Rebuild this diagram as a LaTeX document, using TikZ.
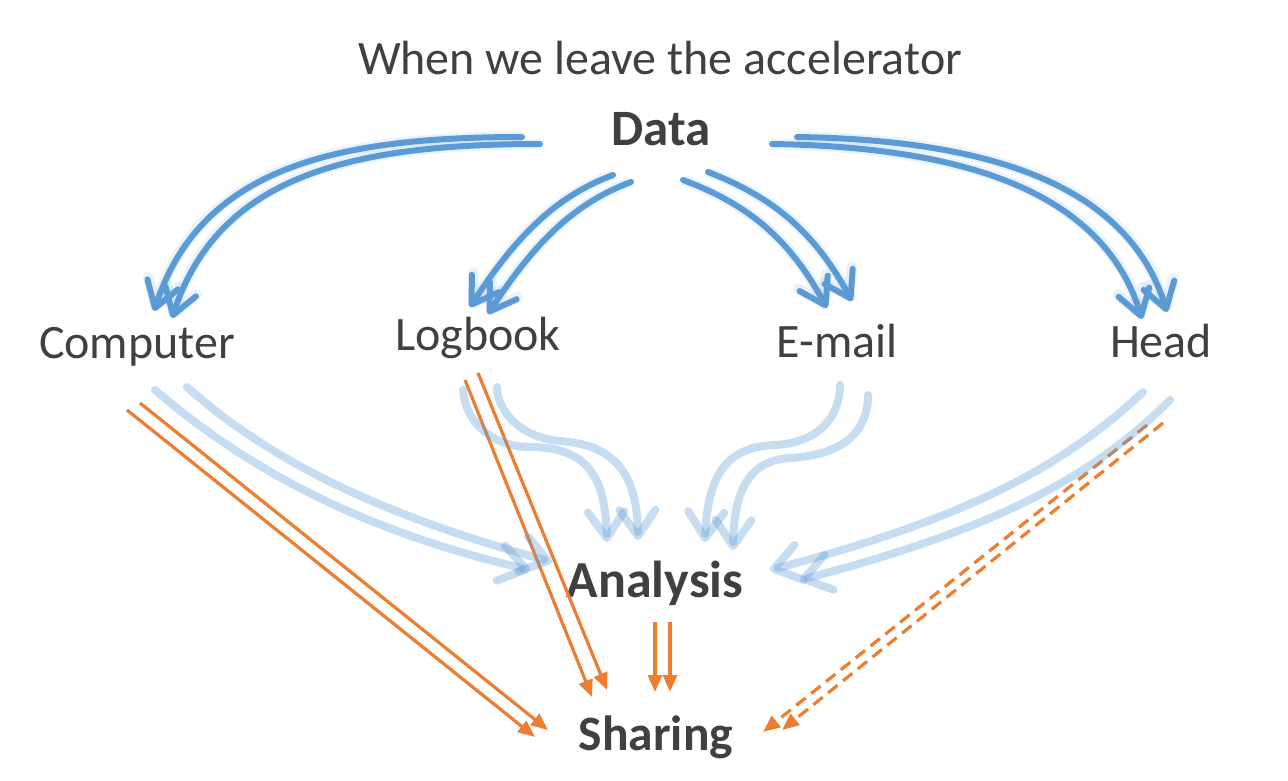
\documentclass[tikz,border=0pt]{standalone}
\usepackage{fontspec}
\setmainfont{Carlito}
\usetikzlibrary{arrows.meta,calc}
\definecolor{txt}{HTML}{404040}
\definecolor{myblue}{HTML}{5B9BD5}
\definecolor{myorange}{HTML}{ED7D31}
\begin{document}
\begin{tikzpicture}[x=1pt,y=-1pt,
  lbl/.style={anchor=base, text=txt, inner sep=0pt, font=\fontsize{48}{56}\selectfont},
  blbl/.style={anchor=base, text=txt, inner sep=0pt, font=\fontsize{51}{60}\selectfont\bfseries},
  darr/.style={draw=myblue, line width=6pt, line cap=round, -{Straight Barb[round,length=25pt,width=32pt]},
    preaction={draw=myblue, draw opacity=0.12, line width=11pt}},
  larr/.style={draw=myblue, draw opacity=0.35, line width=8pt, line cap=round, -{Straight Barb[round,length=26pt,width=36pt]}},
  oarr/.style={draw=myorange, line width=3.2pt, -{Triangle[length=17pt,width=14pt]}},
  odash/.style={oarr, dash pattern=on 12pt off 7pt}]
\useasboundingbox (0,0) rectangle (1288,781);
% nodes
\node[lbl] (title) at (660,75) {When we leave the accelerator};
\node[blbl] (data) at (661,146) {Data};
\node[lbl] (comp) at (137,358) {Computer};
\node[lbl] (log) at (478,350) {Logbook};
\node[lbl] (email) at (837,357) {E-mail};
\node[lbl] (head) at (1161,357) {Head};
\node[blbl, font=\fontsize{52}{60}\selectfont\bfseries] (ana) at (655,597) {Analysis};
\node[blbl, font=\fontsize{49.5}{60}\selectfont\bfseries] (share) at (656,750) {Sharing};
% orange arrows to Sharing
\draw[oarr] ($(comp.base)+(-10,52)$) -- ($(share.base)+(-121,-13)$);
\draw[oarr] ($(comp.base)+(3,45)$) -- ($(share.base)+(-108,-20)$);
\draw[oarr] ($(log.base)+(-13,30)$) -- ($(share.base)+(-64,-53)$);
\draw[oarr] ($(log.base)+(0,23)$) -- ($(share.base)+(-49,-60)$);
\draw[oarr] ($(ana.base)+(0,25)$) -- ($(share.base)+(-1,-58)$);
\draw[oarr] ($(ana.base)+(15,25)$) -- ($(share.base)+(14,-58)$);
\draw[odash] ($(head.base)+(-14,68)$) -- ($(share.base)+(107,-18)$);
\draw[odash] ($(head.base)+(2,66)$) -- ($(share.base)+(126,-20)$);
% dark blue arrows from Data
\draw[darr] ($(data.base)+(-139,-9)$) .. controls (330,137) and (200,170) .. ($(comp.base)+(17,-47)$);
\draw[darr] ($(data.base)+(-121,-2)$) .. controls (348,144) and (218,177) .. ($(comp.base)+(35,-40)$);
\draw[darr] ($(data.base)+(-48,29)$) .. controls (560,195) and (520,230) .. ($(log.base)+(-8,-43)$);
\draw[darr] ($(data.base)+(-30,36)$) .. controls (578,202) and (538,237) .. ($(log.base)+(10,-36)$);
\draw[darr] ($(data.base)+(22,34)$) .. controls (750,205) and (790,240) .. ($(email.base)+(-10,-49)$);
\draw[darr] ($(data.base)+(47,26)$) .. controls (775,198) and (815,233) .. ($(email.base)+(15,-56)$);
\draw[darr] ($(data.base)+(136,-9)$) .. controls (1000,140) and (1130,190) .. ($(head.base)+(6,-45)$);
\draw[darr] ($(data.base)+(111,-2)$) .. controls (975,147) and (1105,197) .. ($(head.base)+(-19,-38)$);
% light blue arrows to Analysis
\draw[larr] ($(comp.base)+(18,32)$) .. controls (260,480) and (380,535) .. ($(ana.base)+(-125,-27)$);
\draw[larr] ($(comp.base)+(50,29)$) .. controls (280,470) and (400,520) .. ($(ana.base)+(-103,-35)$);
\draw[larr] ($(log.base)+(-15,40)$) .. controls (465,420) and (490,447) .. (530,447) .. controls (590,447) and (605,480) .. ($(ana.base)+(-48,-55)$);
\draw[larr] ($(log.base)+(19,37)$) .. controls (497,410) and (520,438) .. (560,441) .. controls (620,445) and (637,480) .. ($(ana.base)+(-17,-57)$);
\draw[larr] ($(email.base)+(3,28)$) .. controls (840,420) and (815,443) .. (775,445) .. controls (730,447) and (708,470) .. ($(ana.base)+(50,-55)$);
\draw[larr] ($(email.base)+(31,38)$) .. controls (868,430) and (845,455) .. (790,458) .. controls (750,460) and (734,490) .. ($(ana.base)+(78,-47)$);
\draw[larr] ($(head.base)+(-18,35)$) .. controls (1060,470) and (960,520) .. ($(ana.base)+(115,-27)$);
\draw[larr] ($(head.base)+(9,43)$) .. controls (1090,480) and (990,530) .. ($(ana.base)+(145,-17)$);
\end{tikzpicture}
\end{document}
